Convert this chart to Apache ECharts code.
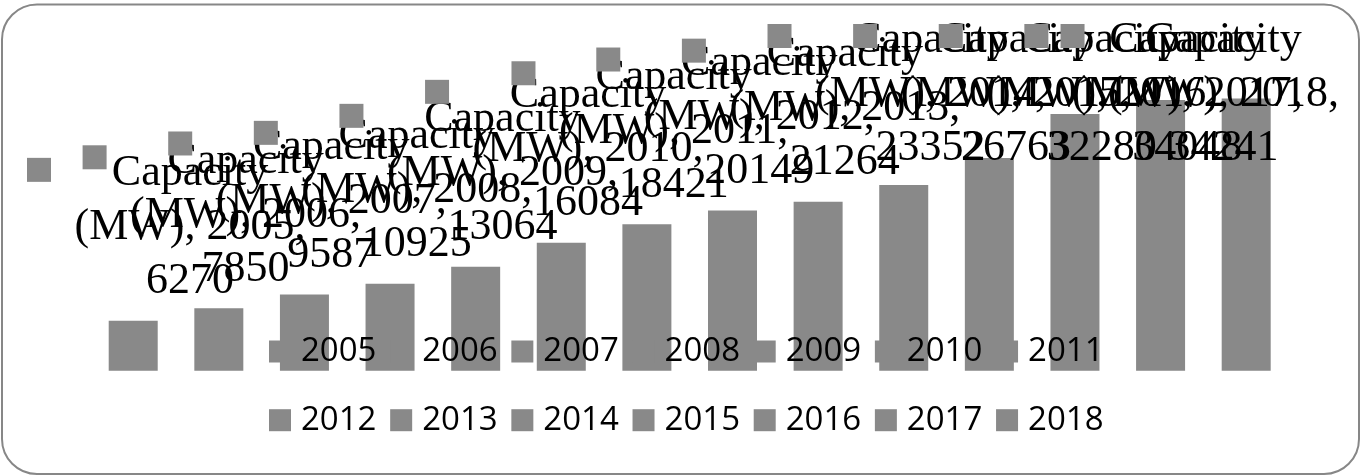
<!DOCTYPE html>
<html>
<head>
<meta charset="utf-8">
<script src="https://cdn.jsdelivr.net/npm/echarts@6/dist/echarts.min.js"></script>
<style>
html, body { margin: 0; padding: 0; background: #fff; }
#capacityBar { width: 1363px; height: 475px; }
</style>
</head>
<body>
<div id="capacityBar"></div>
<script>
var years = ['2005', '2006', '2007', '2008', '2009', '2010', '2011',
             '2012', '2013', '2014', '2015', '2016', '2017', '2018'];
var capacityMW = [6270, 7850, 9587, 10925, 13064, 16084, 18421,
                  20149, 21264, 23352, 26763, 32280, 34048, 34241];
var measureName = 'Capacity (MW)';

var dom = document.getElementById('capacityBar');
var myChart = echarts.init(dom);
var barGray = '#898989';

// labels are pushed back inside the frame, like the office chart does
var labelBox = { left: 27, right: 1339, top: 9, gap: 24 };

function labelText(year, value) {
    var parts = measureName.split(' ');
    return '{sq| }{gap| }{t|' + parts[0] + '}\n' +
        '{pad| }{t|' + parts[1] + ', ' + year + ',}\n' +
        '{pad| }{t|' + value + '}';
}

var labelRich = {
    sq: { width: 24, height: 24, lineHeight: 54, backgroundColor: barGray, align: 'left' },
    gap: { width: 23.5, lineHeight: 54, align: 'left' },
    pad: { width: 47.5, lineHeight: 54, align: 'left' },
    t: {
        fontFamily: 'Liberation Serif',
        fontSize: 44,
        height: 46,
        lineHeight: 54,
        verticalAlign: 'bottom',
        color: '#000',
        align: 'center'
    }
};

// one series per year so the legend lists the years
var series = years.map(function (year, i) {
    return {
        name: year,
        type: 'bar',
        barWidth: 49,
        barGap: '-100%',
        itemStyle: { color: barGray },
        label: {
            show: true,
            position: 'top',
            formatter: function (p) {
                return labelText(p.seriesName, p.value);
            },
            rich: labelRich
        },
        labelLayout: function (params) {
            var r = params.labelRect;
            var bar = params.rect;
            var x = bar.x + bar.width / 2 - r.width / 2 + 3;
            x = Math.max(labelBox.left, Math.min(labelBox.right - r.width, x));
            var y = Math.max(labelBox.top, bar.y - labelBox.gap - r.height);
            return { x: x, y: y, align: 'left', verticalAlign: 'top' };
        },
        data: years.map(function (y, j) {
            return j === i ? capacityMW[i] : '-';
        })
    };
});

option = {
    animation: false,
    graphic: [{
        type: 'rect',
        silent: true,
        shape: { x: 2, y: 4.5, width: 1357, height: 469.5, r: 35 },
        style: { fill: 'none', stroke: '#878787', lineWidth: 2 }
    }],
    legend: {
        data: years,
        left: 269,
        top: 324,
        width: 880,
        padding: 0,
        icon: 'rect',
        itemWidth: 22,
        itemHeight: 22,
        itemGap: 13.7,
        textStyle: {
            fontFamily: 'Open Sans',
            fontSize: 33,
            color: '#000',
            lineHeight: 55,
            padding: [0, 0, 0, 5]
        }
    },
    grid: { left: 90.4, right: 74, top: 52.7, bottom: 104.3 },
    xAxis: {
        type: 'category',
        data: years,
        show: false
    },
    yAxis: {
        type: 'value',
        min: 0,
        max: 40000,
        show: false
    },
    series: series
};

if (option && typeof option === "object") {
    myChart.setOption(option, true);
}
</script>
</body>
</html>
